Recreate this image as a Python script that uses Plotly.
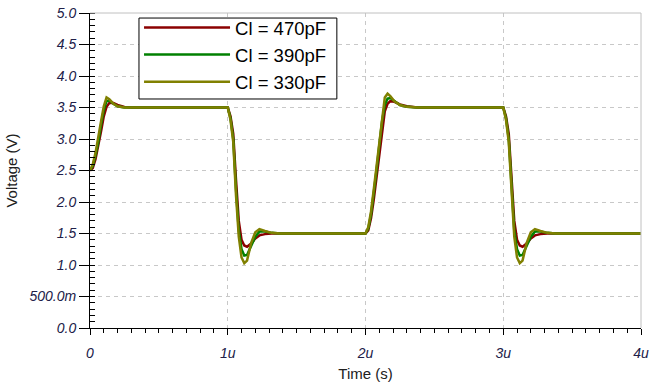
import plotly.graph_objects as go

# Time in microseconds
time_us = [0.00, 0.02, 0.04, 0.06, 0.08, 0.10, 0.12, 0.14, 0.17, 0.20, 0.25, 0.30,
           1.00, 1.02, 1.04, 1.06, 1.08, 1.10, 1.12, 1.14, 1.17, 1.20, 1.23, 1.27, 1.32, 1.38,
           2.00, 2.02, 2.04, 2.06, 2.08, 2.10, 2.12, 2.14, 2.16, 2.18, 2.21, 2.25, 2.30, 2.38,
           3.00, 3.02, 3.04, 3.06, 3.08, 3.10, 3.12, 3.14, 3.17, 3.20, 3.23, 3.27, 3.32, 3.38,
           4.00]

v_470pF = [2.50, 2.54, 2.68, 2.88, 3.12, 3.36, 3.51, 3.57, 3.57, 3.54, 3.51, 3.50,
           3.50, 3.36, 3.08, 2.35, 1.70, 1.40, 1.31, 1.29, 1.34, 1.42, 1.47, 1.49, 1.50, 1.50,
           1.50, 1.55, 1.74, 2.04, 2.40, 2.78, 3.16, 3.44, 3.56, 3.60, 3.59, 3.55, 3.52, 3.50,
           3.50, 3.36, 3.08, 2.35, 1.70, 1.40, 1.31, 1.29, 1.34, 1.42, 1.47, 1.49, 1.50, 1.50,
           1.50]

v_390pF = [2.50, 2.57, 2.74, 2.95, 3.22, 3.46, 3.60, 3.61, 3.56, 3.52, 3.50, 3.50,
           3.50, 3.33, 3.00, 2.20, 1.55, 1.25, 1.15, 1.16, 1.30, 1.45, 1.53, 1.53, 1.51, 1.50,
           1.50, 1.58, 1.80, 2.12, 2.50, 2.90, 3.28, 3.54, 3.64, 3.65, 3.60, 3.54, 3.51, 3.50,
           3.50, 3.33, 3.00, 2.20, 1.55, 1.25, 1.15, 1.16, 1.30, 1.45, 1.53, 1.53, 1.51, 1.50,
           1.50]

v_330pF = [2.50, 2.60, 2.78, 3.00, 3.28, 3.52, 3.66, 3.63, 3.56, 3.52, 3.50, 3.50,
           3.50, 3.30, 2.95, 2.10, 1.45, 1.12, 1.03, 1.07, 1.35, 1.52, 1.57, 1.54, 1.51, 1.50,
           1.50, 1.60, 1.85, 2.20, 2.58, 2.98, 3.38, 3.66, 3.72, 3.68, 3.60, 3.54, 3.51, 3.50,
           3.50, 3.30, 2.95, 2.10, 1.45, 1.12, 1.03, 1.07, 1.35, 1.52, 1.57, 1.54, 1.51, 1.50,
           1.50]

series_names = ["Cl = 470pF", "Cl = 390pF", "Cl = 330pF"]
series_values = [v_470pF, v_390pF, v_330pF]
series_colors = ["#8b0000", "#008000", "#808000"]

x_tickvals = [0, 1, 2, 3, 4]
x_ticktext = ["0", "1u", "2u", "3u", "4u"]
y_tickvals = [0.0, 0.5, 1.0, 1.5, 2.0, 2.5, 3.0, 3.5, 4.0, 4.5, 5.0]
y_ticktext = ["0.0", "500.0m", "1.0", "1.5", "2.0", "2.5", "3.0", "3.5", "4.0", "4.5", "5.0"]

fig = go.Figure()
for name, vals, col in zip(series_names, series_values, series_colors):
    fig.add_trace(go.Scatter(x=time_us, y=vals, mode="lines", name=name,
                             line=dict(color=col, width=2.5)))

tickfont = dict(family="Liberation Sans, Arial, sans-serif", size=14, color="#202048", style="italic")
titlefont = dict(family="Liberation Sans, Arial, sans-serif", size=15, color="#202020")

fig.update_layout(
    width=650, height=386,
    margin=dict(l=90, r=9, t=10, b=58),
    plot_bgcolor="white", paper_bgcolor="white",
    font=dict(family="Liberation Sans, Arial, sans-serif"),
    showlegend=True,
    legend=dict(x=0.089, y=1.0126, xanchor="left", yanchor="top",
                bgcolor="rgba(0,0,0,0)", borderwidth=0,
                font=dict(family="Liberation Sans, Arial, sans-serif", size=18.5, color="black"),
                itemwidth=86, tracegroupgap=0),
    xaxis=dict(range=[0, 4], tickmode="array", tickvals=x_tickvals, ticktext=x_ticktext,
               automargin=False,
               showline=True, linecolor="black", linewidth=1,
               ticks="outside", ticklen=6, tickcolor="black",
               ticklabelstandoff=6,
               showgrid=True, gridcolor="#c8c8c8", griddash="4px,4px", gridwidth=1,
               zeroline=False, tickfont=tickfont,
               minor=dict(tickmode="linear", tick0=0, dtick=0.1, ticks="outside",
                          ticklen=4, tickcolor="black", showgrid=False),
               title=dict(text="Time (s)", font=titlefont, standoff=8)),
    yaxis=dict(range=[0, 5], tickmode="array", tickvals=y_tickvals, ticktext=y_ticktext,
               automargin=False,
               showline=True, linecolor="black", linewidth=1,
               ticks="outside", ticklen=10, tickcolor="black",
               showgrid=True, gridcolor="#c8c8c8", griddash="4px,4px", gridwidth=1,
               zeroline=False, tickfont=tickfont,
               minor=dict(tickmode="linear", tick0=0, dtick=0.1, ticks="inside",
                          ticklen=5, tickcolor="black", showgrid=False),
               title=dict(text="Voltage (V)", font=titlefont, standoff=8)),
    shapes=[
        dict(type="line", xref="paper", yref="paper", x0=0, x1=1, y0=1, y1=1,
             line=dict(color="#c0c0c0", width=1)),
        dict(type="line", xref="paper", yref="paper", x0=1, x1=1, y0=0, y1=1,
             line=dict(color="#c0c0c0", width=1)),
        # legend frame
        dict(type="rect", xref="paper", yref="paper", x0=0.0889, x1=0.448, y0=0.727, y1=0.984,
             fillcolor="white", line=dict(color="black", width=1), layer="above"),
    ],
)

fig.write_html("out.html")
